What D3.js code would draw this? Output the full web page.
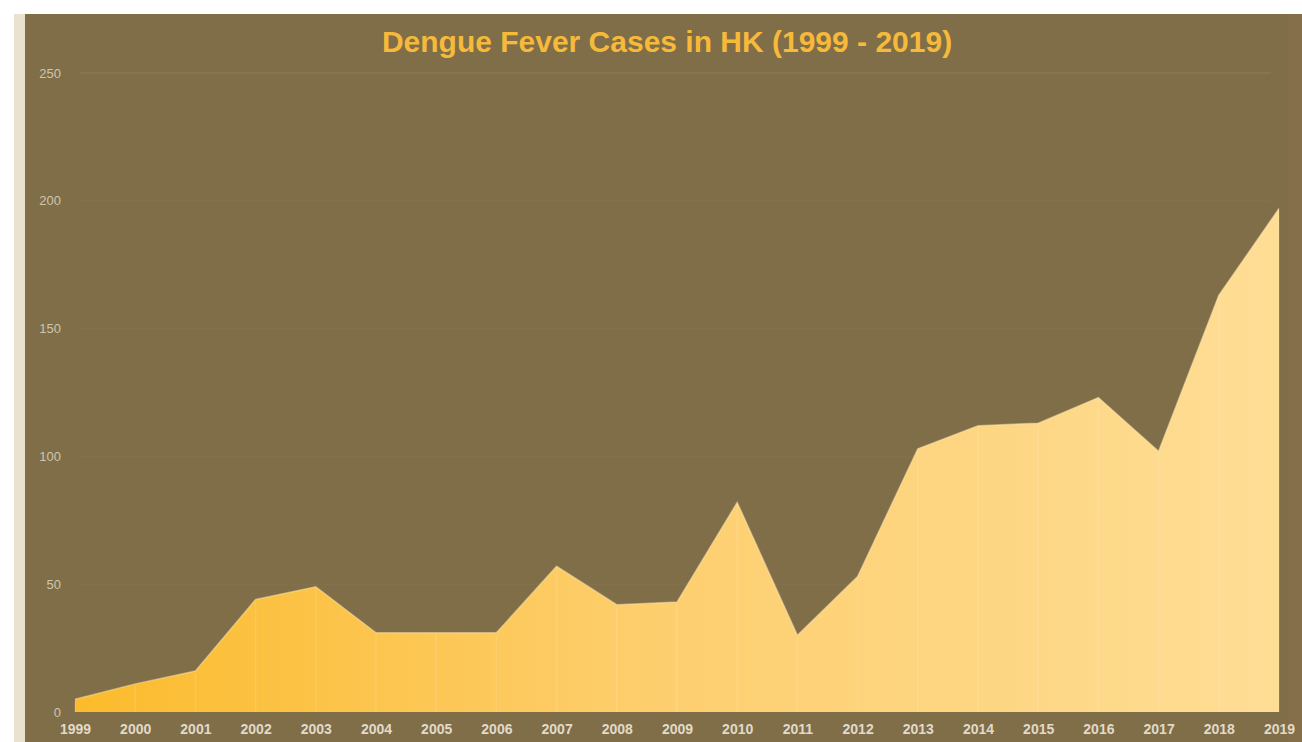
<!DOCTYPE html>
<html>
<head>
<meta charset="utf-8">
<script src="https://cdn.jsdelivr.net/npm/d3@7"></script>
<style>
  html, body { margin: 0; padding: 0; background: #ffffff; }
  svg { display: block; }
</style>
</head>
<body>
<div id="chart"></div>
<script>
'use strict';

const years = ['1999','2000','2001','2002','2003','2004','2005','2006','2007','2008','2009',
  '2010','2011','2012','2013','2014','2015','2016','2017','2018','2019'];
const cases = [5, 11, 16, 44, 49, 31, 31, 31, 57, 42, 43, 82, 30, 53, 103, 112, 113, 123, 102, 163, 197];
const yTicks = [0, 50, 100, 150, 200, 250];
const title = 'Dengue Fever Cases in HK (1999 - 2019)';

const width = 1302;
const height = 742;
const plot = { left: 75, right: 1279, top: 73, bottom: 712 };

const svg = d3.select('#chart')
  .append('svg')
  .attr('width', width)
  .attr('height', height);

// page frame
svg.append('rect').attr('x', 0).attr('y', 0).attr('width', width).attr('height', height).attr('fill', '#ffffff');
svg.append('rect').attr('x', 14).attr('y', 14).attr('width', 12).attr('height', height - 14).attr('fill', '#e9e2cf');
svg.append('rect').attr('x', 25).attr('y', 14).attr('width', width - 25).attr('height', height - 14).attr('fill', '#7f6e48');
svg.append('rect').attr('x', 1288).attr('y', 14).attr('width', 14).attr('height', height - 14).attr('fill', '#856f4b');

const x = d3.scalePoint()
  .domain(years)
  .range([plot.left, plot.right]);

const y = d3.scaleLinear()
  .domain([0, 250])
  .range([plot.bottom, plot.top]);

const defs = svg.append('defs');
const grad = defs.append('linearGradient')
  .attr('id', 'fillGrad')
  .attr('gradientUnits', 'userSpaceOnUse')
  .attr('x1', plot.left).attr('x2', plot.right)
  .attr('y1', 0).attr('y2', 0);
grad.append('stop').attr('offset', '0%').attr('stop-color', '#fbbb2c');
grad.append('stop').attr('offset', '50%').attr('stop-color', '#fdcf70');
grad.append('stop').attr('offset', '100%').attr('stop-color', '#fedd95');

// horizontal grid
svg.append('g')
  .selectAll('line')
  .data(yTicks.filter(d => d > 0))
  .join('line')
  .attr('x1', plot.left + 5).attr('x2', plot.right - 8)
  .attr('y1', d => y(d)).attr('y2', d => y(d))
  .attr('stroke', '#ffffff')
  .attr('stroke-opacity', d => d === 250 ? 0.05 : 0.025)
  .attr('stroke-width', 2);

const data = years.map((yr, i) => ({ year: yr, value: cases[i] }));

const area = d3.area()
  .x(d => x(d.year))
  .y0(y(0))
  .y1(d => y(d.value));

svg.append('path')
  .datum(data)
  .attr('d', area)
  .attr('fill', 'url(#fillGrad)');

svg.append('path')
  .datum(data)
  .attr('d', d3.line().x(d => x(d.year)).y(d => y(d.value)))
  .attr('fill', 'none')
  .attr('stroke', '#ffe7b0')
  .attr('stroke-opacity', 0.5)
  .attr('stroke-width', 1.5);

// faint vertical lines over the fill
svg.append('g')
  .selectAll('line')
  .data(data)
  .join('line')
  .attr('x1', d => x(d.year)).attr('x2', d => x(d.year))
  .attr('y1', d => y(d.value) + 2).attr('y2', y(0))
  .attr('stroke', '#ffffff')
  .attr('stroke-opacity', 0.12)
  .attr('stroke-width', 1.5);

// y axis
const yAxis = svg.append('g')
  .attr('transform', `translate(${plot.left - 14},0)`)
  .call(d3.axisLeft(y).tickValues(yTicks).tickSize(0).tickPadding(0));
yAxis.select('.domain').remove();
yAxis.selectAll('text')
  .attr('fill', '#cfc5ac')
  .style('font-family', 'Liberation Sans, Arial, sans-serif')
  .style('font-size', '13px');

// x axis
const xAxis = svg.append('g')
  .attr('transform', `translate(0,${plot.bottom + 12})`)
  .call(d3.axisBottom(x).tickSize(0).tickPadding(0));
xAxis.select('.domain').remove();
xAxis.selectAll('text')
  .attr('fill', '#e2dac8')
  .style('font-family', 'Liberation Sans, Arial, sans-serif')
  .style('font-weight', 'bold')
  .style('font-size', '14px');

svg.append('text')
  .attr('x', 667)
  .attr('y', 52)
  .attr('text-anchor', 'middle')
  .attr('fill', '#f6b93a')
  .style('font-family', 'Liberation Sans, Arial, sans-serif')
  .style('font-weight', 'bold')
  .style('font-size', '30px')
  .text(title);
</script>
</body>
</html>
